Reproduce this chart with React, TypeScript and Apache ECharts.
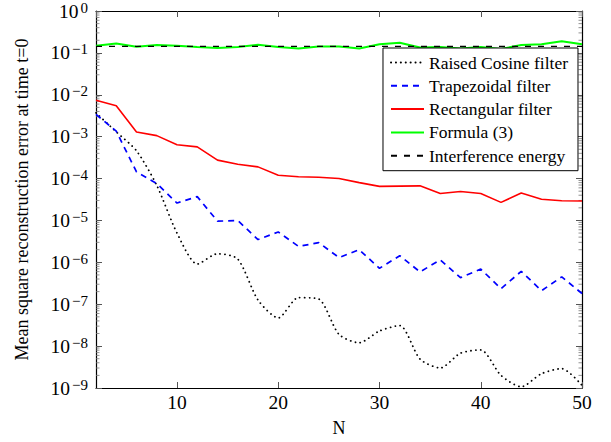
import React, { useEffect, useRef } from "react";
import * as echarts from "echarts";

const N = [2, 4, 6, 8, 10, 12, 14, 16, 18, 20, 22, 24, 26, 28, 30, 32, 34, 36, 38, 40, 42, 44, 46, 48, 50];
const raisedCosine = [3.7e-3, 1.3e-3, 4.6e-4, 6.9e-5, 5e-6, 9.1e-7, 1.6e-6, 1.2e-6, 1.26e-7, 4.7e-8, 1.44e-7, 1.33e-7, 1.9e-8, 1.2e-8, 2.3e-8, 3.1e-8, 4.9e-9, 3.0e-9, 6.8e-9, 8.1e-9, 2.0e-9, 1.07e-9, 2.2e-9, 2.9e-9, 1.16e-9];
const trapezoidal = [3.4e-3, 1.35e-3, 1.44e-4, 7.6e-5, 2.6e-5, 3.7e-5, 9.6e-6, 1.0e-5, 3.5e-6, 5.3e-6, 2.4e-6, 2.95e-6, 1.3e-6, 2.0e-6, 7.2e-7, 1.44e-6, 5.9e-7, 1.15e-6, 4.3e-7, 6.9e-7, 2.35e-7, 6.1e-7, 2.1e-7, 4.5e-7, 1.8e-7];
const rectangular = [7.4e-3, 5.5e-3, 1.29e-3, 1.06e-3, 6.4e-4, 5.7e-4, 2.75e-4, 2.2e-4, 1.9e-4, 1.2e-4, 1.1e-4, 1.07e-4, 1.0e-4, 8e-5, 6.5e-5, 6.6e-5, 6.7e-5, 4.4e-5, 4.9e-5, 4.4e-5, 2.7e-5, 4.5e-5, 3.2e-5, 2.96e-5, 2.9e-5];
const formula3 = [0.148, 0.168, 0.14, 0.154, 0.148, 0.138, 0.131, 0.138, 0.156, 0.138, 0.128, 0.143, 0.143, 0.128, 0.16, 0.174, 0.135, 0.138, 0.128, 0.138, 0.124, 0.154, 0.16, 0.19, 0.16];
const interferenceEnergy = 0.143;

const seriesNames = ["Raised Cosine filter", "Trapezoidal filter", "Rectangular filter", "Formula (3)", "Interference energy"];
const xMin = 2;
const xMax = 50;
const yMin = 1e-9;
const yMax = 1;
const decadeExponents = [-9, -8, -7, -6, -5, -4, -3, -2, -1];
const minorMultipliers = [2, 3, 4, 5, 6, 7, 8, 9];

const FONT = "Liberation Serif";

export default function App() {
  const ref = useRef<HTMLDivElement>(null);
  useEffect(() => {
    if (!ref.current) return;
    const chart = echarts.init(ref.current, null, { renderer: "svg" });
    const minorTicks: number[] = [];
    decadeExponents.forEach((e) => minorMultipliers.forEach((m) => minorTicks.push(m * Math.pow(10, e))));
    const pair = (vals: number[]) => N.map((n, i) => [n, vals[i]]);
    const yLabel = (v: number) => {
      const e = Math.round(Math.log10(v));
      const s = e < 0 ? "\u2212" + Math.abs(e) : String(e);
      return `{b|10}{s|${s}}`;
    };
    const rich = {
      b: { fontSize: 19.5, fontFamily: FONT, color: "#000", lineHeight: 22, verticalAlign: "middle" as const },
      s: { fontSize: 15, fontFamily: FONT, color: "#000", lineHeight: 22, verticalAlign: "top" as const, padding: [0, 0, 0, 2] },
    };
    const axisLine = { show: true, lineStyle: { color: "#000", width: 1.2 } };
    const tick = { show: true, inside: true, length: 6, lineStyle: { color: "#555", width: 1 } };
    chart.setOption({
      animation: false,
      backgroundColor: "#fff",
      textStyle: { fontFamily: FONT },
      grid: { left: 96, right: 29, top: 5, bottom: 54, containLabel: false },
      legend: {
        orient: "vertical",
        right: 33,
        top: 48,
        data: seriesNames,
        backgroundColor: "#fff",
        borderColor: "#000",
        borderWidth: 1,
        borderRadius: 0,
        padding: [5.5, 10, 6, 7],
        itemWidth: 33,
        itemHeight: 14,
        itemGap: 5.3,
        itemStyle: { color: "transparent", borderWidth: 0, opacity: 0 },
        textStyle: { fontFamily: FONT, fontSize: 17.5, color: "#000", lineHeight: 18 },
      },
      xAxis: [
        {
          type: "value",
          min: xMin,
          max: xMax,
          splitNumber: 5,
          name: "N",
          nameLocation: "middle",
          nameGap: 31,
          nameTextStyle: { fontFamily: FONT, fontSize: 18, color: "#000" },
          axisLine,
          axisTick: tick,
          splitLine: { show: false },
          axisLabel: { showMinLabel: false, fontFamily: FONT, fontSize: 19.5, color: "#000", margin: 4 },
        },
        {
          type: "value",
          position: "top",
          min: xMin,
          max: xMax,
          splitNumber: 5,
          axisLine,
          axisTick: tick,
          splitLine: { show: false },
          axisLabel: { show: false },
        },
      ],
      yAxis: [
        {
          type: "log",
          logBase: 10,
          min: yMin,
          max: yMax,
          name: "Mean square reconstruction error at time t=0",
          nameLocation: "middle",
          nameGap: 65,
          nameTextStyle: { fontFamily: FONT, fontSize: 18, color: "#000" },
          axisLine,
          axisTick: tick,
          splitLine: { show: false },
          axisLabel: { formatter: yLabel, rich, margin: 8, fontSize: 19.5, fontFamily: FONT, color: "#000" },
        },
        {
          type: "log",
          logBase: 10,
          position: "right",
          min: yMin,
          max: yMax,
          axisLine,
          axisTick: tick,
          splitLine: { show: false },
          axisLabel: { show: false },
        },
      ],
      series: [
        {
          type: "custom",
          name: "minorTicks",
          silent: true,
          xAxisIndex: 0,
          yAxisIndex: 0,
          data: minorTicks.map((v) => [xMin, v]),
          renderItem: (params: any, api: any) => {
            const v = api.value(1);
            const pl = api.coord([xMin, v]);
            const pr = api.coord([xMax, v]);
            return {
              type: "group",
              children: [
                { type: "line", shape: { x1: pl[0], y1: pl[1], x2: pl[0] + 3.5, y2: pl[1] }, style: { stroke: "#777", lineWidth: 0.8 } },
                { type: "line", shape: { x1: pr[0], y1: pr[1], x2: pr[0] - 3.5, y2: pr[1] }, style: { stroke: "#777", lineWidth: 0.8 } },
              ],
            };
          },
        },
        {
          type: "line",
          name: seriesNames[0],
          data: pair(raisedCosine),
          symbol: "none",
          smooth: 0.25,
          lineStyle: { color: "#000", width: 1.8, type: [0.1, 4.8], cap: "round" },
          itemStyle: { color: "#000" },
        },
        {
          type: "line",
          name: seriesNames[1],
          data: pair(trapezoidal),
          symbol: "none",
          lineStyle: { color: "#0000ff", width: 1.7, type: [6, 5] },
          itemStyle: { color: "#0000ff" },
        },
        {
          type: "line",
          name: seriesNames[2],
          data: pair(rectangular),
          symbol: "none",
          lineStyle: { color: "#ff0000", width: 1.6 },
          itemStyle: { color: "#ff0000" },
        },
        {
          type: "line",
          name: seriesNames[3],
          data: pair(formula3),
          symbol: "none",
          lineStyle: { color: "#00ff00", width: 2 },
          itemStyle: { color: "#00ff00" },
        },
        {
          type: "line",
          name: seriesNames[4],
          data: N.map((n) => [n, interferenceEnergy]),
          symbol: "none",
          lineStyle: { color: "#000", width: 1.4, type: [6, 7] },
          itemStyle: { color: "#000" },
        },
      ],
    });
    return () => chart.dispose();
  }, []);
  return <div ref={ref} style={{ position: "fixed", left: 0, top: 0, width: 611, height: 442 }} />;
}
